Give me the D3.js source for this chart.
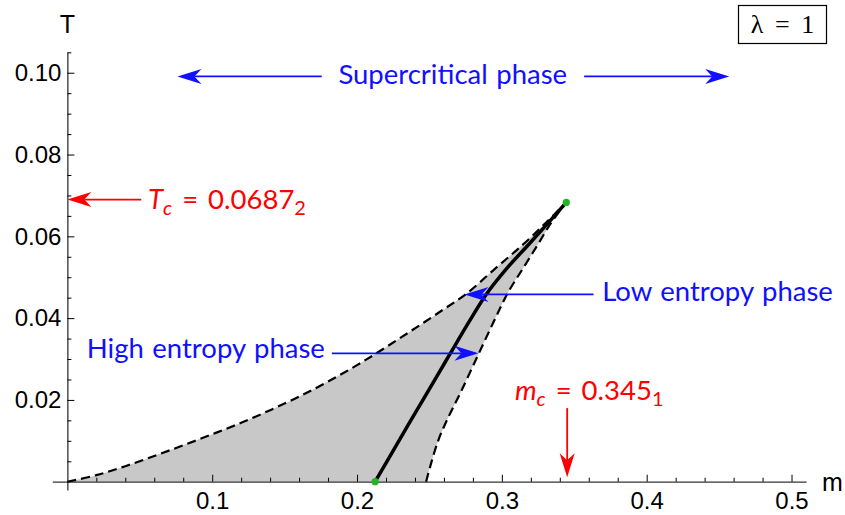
<!DOCTYPE html>
<html>
<head>
<meta charset="utf-8">
<script src="https://cdn.jsdelivr.net/npm/d3@7"></script>
<style>
  body { margin: 0; background: #fff; }
  svg { display: block; }
  .tick text { font-family: "Liberation Sans", Arial, sans-serif; font-size: 24px; fill: #000; }
  .tick line { stroke: #000; stroke-width: 1; }
  .domain { stroke: #333; stroke-width: 1.3; }
  .axisTitle { font-family: "Liberation Sans", Arial, sans-serif; font-size: 25px; }
  .note { font-family: Lato, sans-serif; font-size: 27.5px; word-spacing: 1.5px; }
</style>
</head>
<body>
<div id="chart"></div>
<script>
var svgWidth = 845;
var svgHeight = 515;

// axis ticks
var xMajorTicks = [0.1, 0.2, 0.3, 0.4, 0.5];
var xTickLabels = ["0.1", "0.2", "0.3", "0.4", "0.5"];
var xMinorTicks = [0.02, 0.04, 0.06, 0.08, 0.12, 0.14, 0.16, 0.18, 0.22, 0.24, 0.26, 0.28,
                   0.32, 0.34, 0.36, 0.38, 0.42, 0.44, 0.46, 0.48];
var yMajorTicks = [0.02, 0.04, 0.06, 0.08, 0.10];
var yTickLabels = ["0.02", "0.04", "0.06", "0.08", "0.10"];
var yMinorTicks = [0.005, 0.01, 0.015, 0.025, 0.03, 0.035, 0.045, 0.05, 0.055, 0.065, 0.07,
                   0.075, 0.085, 0.09, 0.095, 0.105];

// upper-left dashed boundary (m, T)
var upperM = [0, 0.02, 0.04, 0.06, 0.08, 0.10, 0.12, 0.14, 0.16, 0.18, 0.20, 0.22, 0.24,
              0.26, 0.2757, 0.2950, 0.3140, 0.3300, 0.3445];
var upperT = [0, 0.0016, 0.0038, 0.0063, 0.0089, 0.0116, 0.0144, 0.0175, 0.0208, 0.0245,
              0.0285, 0.0329, 0.0375, 0.0422, 0.0460, 0.0520, 0.0578, 0.0632, 0.0683];

// lower-right dashed boundary (m, T)
var lowerM = [0.2477, 0.2505, 0.2562, 0.2620, 0.2712, 0.2827, 0.2942, 0.3040, 0.3150, 0.3245, 0.3340, 0.3445];
var lowerT = [0, 0.0037, 0.0102, 0.0150, 0.0216, 0.0303, 0.0390, 0.0461, 0.0524, 0.0578, 0.0633, 0.0683];

// solid coexistence line (m, T)
var coexM = [0.2125, 0.2250, 0.2400, 0.2550, 0.2643, 0.2775, 0.2892, 0.3040, 0.3185, 0.3320, 0.3445];
var coexT = [0, 0.0076, 0.0167, 0.0257, 0.0313, 0.0392, 0.0458, 0.0524, 0.0580, 0.0633, 0.0683];

// end points of the coexistence line
var dotM = [0.2125, 0.3445];
var dotT = [0, 0.0683];

// annotation arrows, from tail to tip (m, T)
var arrowFrom = [[0.1756, 0.0991], [0.3568, 0.0991], [0.051, 0.0690], [0.3451, 0.0180],
                 [0.3633, 0.0458], [0.1826, 0.0314]];
var arrowTo   = [[0.0760, 0.0991], [0.4570, 0.0991], [0.000, 0.0690], [0.3451, 0.0011],
                 [0.2742, 0.0458], [0.2838, 0.0314]];
var arrowColor = ["#1010ff", "#1010ff", "#ff0000", "#ff0000", "#1010ff", "#1010ff"];

var x = d3.scaleLinear().domain([-0.0104, 0.51]).range([52.3, 806]);
var y = d3.scaleLinear().domain([-0.002, 0.105]).range([489.9, 52.3]);

var svg = d3.select("#chart")
  .append("svg")
  .attr("width", svgWidth)
  .attr("height", svgHeight);

function pairs(ms, ts) {
  return ms.map(function(m, i) { return [m, ts[i]]; });
}

var line = d3.line()
  .x(d => x(d[0]))
  .y(d => y(d[1]))
  .curve(d3.curveCatmullRom.alpha(0.5));

var upper = pairs(upperM, upperT);
var lower = pairs(lowerM, lowerT);
var coex = pairs(coexM, coexT);

// shaded region between the two dashed curves
svg.append("path")
  .attr("d", line(upper) + line(lower.slice().reverse()).replace("M", "L") + "Z")
  .attr("fill", "#c8c8c8");

// axes
var xMinor = svg.append("g").attr("transform", `translate(0, ${y(0)})`)
  .call(d3.axisBottom(x).tickValues(xMinorTicks).tickSizeInner(-4).tickSizeOuter(0).tickFormat(""));
var xMajor = svg.append("g").attr("transform", `translate(0, ${y(0)})`)
  .call(d3.axisBottom(x).tickValues(xMajorTicks).tickSizeInner(-7).tickSizeOuter(0).tickPadding(10)
    .tickFormat((d, i) => xTickLabels[i]));
xMajor.select(".domain").remove();

var yMinor = svg.append("g").attr("transform", `translate(${x(0)}, 0)`)
  .call(d3.axisLeft(y).tickValues(yMinorTicks).tickSizeInner(-4).tickSizeOuter(0).tickFormat(""));
var yMajor = svg.append("g").attr("transform", `translate(${x(0)}, 0)`)
  .call(d3.axisLeft(y).tickValues(yMajorTicks).tickSizeInner(-7).tickSizeOuter(0).tickPadding(6)
    .tickFormat((d, i) => yTickLabels[i]));
yMajor.select(".domain").remove();

svg.append("text").attr("class", "axisTitle")
  .attr("x", x(0)).attr("y", 33).attr("text-anchor", "middle").text("T");
svg.append("text").attr("class", "axisTitle")
  .attr("x", 822).attr("y", 491).text("m");

// dashed boundaries
[upper, lower].forEach(function(c) {
  svg.append("path")
    .attr("d", line(c))
    .attr("fill", "none")
    .attr("stroke", "#000")
    .attr("stroke-width", 2.2)
    .attr("stroke-dasharray", "9,5");
});

// coexistence line
svg.append("path")
  .attr("d", line(coex))
  .attr("fill", "none")
  .attr("stroke", "#000")
  .attr("stroke-width", 3.5);

svg.selectAll(".dot")
  .data(dotM)
  .enter()
  .append("circle")
  .attr("cx", d => x(d))
  .attr("cy", (d, i) => y(dotT[i]))
  .attr("r", 3.6)
  .attr("fill", "#22b422");

// arrows
function drawArrow(p0, p1, color) {
  var x0 = x(p0[0]), y0 = y(p0[1]), x1 = x(p1[0]), y1 = y(p1[1]);
  var ang = Math.atan2(y1 - y0, x1 - x0);
  var L = 24, W = 7.5, N = 17;
  svg.append("line")
    .attr("x1", x0).attr("y1", y0)
    .attr("x2", x1 - N * Math.cos(ang)).attr("y2", y1 - N * Math.sin(ang))
    .attr("stroke", color)
    .attr("stroke-width", 1.8);
  svg.append("path")
    .attr("d", `M0,0L${-L},${-W}L${-N},0L${-L},${W}Z`)
    .attr("transform", `translate(${x1},${y1}) rotate(${ang * 180 / Math.PI})`)
    .attr("fill", color);
}
arrowFrom.forEach(function(p, i) { drawArrow(p, arrowTo[i], arrowColor[i]); });

// phase labels
svg.append("text").attr("class", "note")
  .attr("x", x(0.2661)).attr("y", y(0.0973))
  .attr("text-anchor", "middle").attr("fill", "#1010ff")
  .text("Supercritical phase");
svg.append("text").attr("class", "note")
  .attr("x", x(0.0134)).attr("y", y(0.0302))
  .attr("fill", "#1010ff")
  .text("High entropy phase");
svg.append("text").attr("class", "note")
  .attr("x", x(0.3693)).attr("y", y(0.0442))
  .attr("fill", "#1010ff")
  .text("Low entropy phase");

// critical values
function mathLabel(m, t, sym, sub, num, sub2) {
  var txt = svg.append("text").attr("class", "note")
    .attr("x", x(m)).attr("y", y(t)).attr("fill", "#ff0000");
  txt.append("tspan").attr("font-style", "italic").text(sym);
  txt.append("tspan").attr("font-style", "italic").attr("font-size", "20px").attr("dy", 6).text(sub);
  txt.append("tspan").attr("dy", -6).attr("dx", 10).text("=");
  txt.append("tspan").attr("dx", 10).text(num);
  txt.append("tspan").attr("font-size", "20px").attr("dy", 6).text(sub2);
}
mathLabel(0.0557, 0.0666, "T", "c", "0.0687", "2");
mathLabel(0.309, 0.0200, "m", "c", "0.345", "1");

// lambda box
svg.append("rect")
  .attr("x", 738.5).attr("y", 5.5).attr("width", 88).attr("height", 38)
  .attr("fill", "#fff").attr("stroke", "#000").attr("stroke-width", 1.2);
svg.append("text")
  .attr("x", 782.5).attr("y", 33)
  .attr("text-anchor", "middle")
  .style("font-family", "'Liberation Serif', serif")
  .style("font-size", "26px")
  .style("word-spacing", "5px")
  .text("λ = 1");
</script>
</body>
</html>
